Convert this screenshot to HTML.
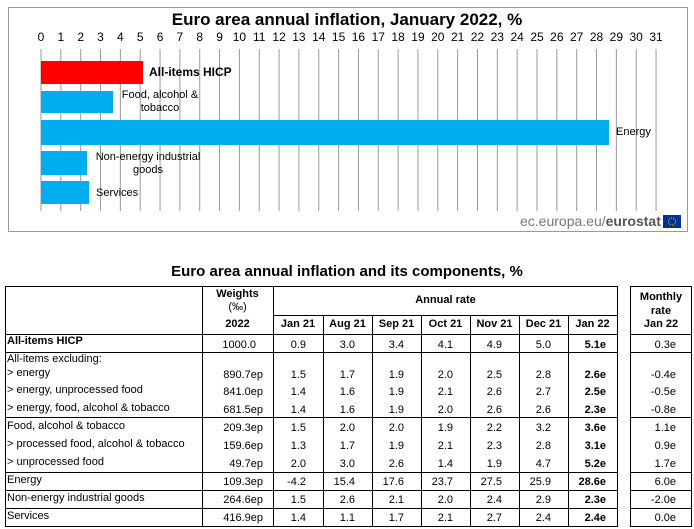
<!DOCTYPE html>
<html><head><meta charset="utf-8"><style>
body{margin:0;width:694px;height:529px;background:#fff;position:relative;overflow:hidden;font-family:"Liberation Sans",Arial,sans-serif;color:#000}
.a{position:absolute;white-space:nowrap}
.t{font-size:11px}
.c{text-align:center}
.r{text-align:right}
.b{font-weight:bold}
</style></head><body>
<div class="a" style="left:8px;top:7px;width:678px;height:223px;border:1px solid #999"></div>
<div class="a b c" style="left:8px;top:10px;width:678px;font-size:17px">Euro area annual inflation, January 2022, %</div>
<svg class="a" style="left:0;top:0" width="694" height="240">
<g id="g"></g>
<rect x="41" y="61" width="102" height="23" fill="#ff0000"/>
<rect x="41" y="91" width="72" height="22" fill="#00aeef"/>
<rect x="41" y="120" width="568" height="25" fill="#00aeef"/>
<rect x="41" y="151" width="46" height="24" fill="#00aeef"/>
<rect x="41" y="181" width="48" height="23" fill="#00aeef"/>
<rect x="663" y="215" width="18" height="13" fill="#003399"/>
<circle cx="672" cy="221.5" r="3.5" fill="none" stroke="#ffcc00" stroke-width="1" stroke-dasharray="1 1.2"/>
</svg>
<script>
var g=document.getElementById('g'),s='',l='';
for(var i=0;i<=31;i++){var x=41+i*19.84;s+='<line x1="'+x+'" y1="49" x2="'+x+'" y2="211" stroke="#999" stroke-width="1"/>';
l+='<div class="a c" style="left:'+(x-10)+'px;top:30px;width:20px;font-size:12px">'+i+'</div>';}
g.innerHTML=s;document.body.insertAdjacentHTML('beforeend',l);
</script>
<div class="a b" style="left:149px;top:65px;font-size:12px">All-items HICP</div>
<div class="a c" style="left:110px;top:89px;width:100px;font-size:11px;line-height:13px">Food, alcohol &amp;<br>tobacco</div>
<div class="a" style="left:616px;top:126px;font-size:11px">Energy</div>
<div class="a c" style="left:88px;top:151px;width:120px;font-size:11px;line-height:13px">Non-energy industrial<br>goods</div>
<div class="a" style="left:96px;top:187px;font-size:11px">Services</div>
<div class="a" style="left:520px;top:213px;font-size:14px;color:#777">ec.europa.eu/<b style="color:#555">eurostat</b></div>

<div class="a b c" style="left:0;top:263px;width:694px;font-size:15px">Euro area annual inflation and its components, %</div>
<svg class="a" style="left:0;top:0" width="694" height="529">
<g stroke="#000" stroke-width="1" fill="none">
<rect x="5.5" y="286.5" width="612" height="240"/>
<rect x="630.5" y="286.5" width="61" height="240"/>
<line x1="202.5" y1="286" x2="202.5" y2="527"/>
<line x1="273.5" y1="286" x2="273.5" y2="527"/>
<line x1="323.5" y1="315" x2="323.5" y2="527"/>
<line x1="372.5" y1="315" x2="372.5" y2="527"/>
<line x1="421.5" y1="315" x2="421.5" y2="527"/>
<line x1="470.5" y1="315" x2="470.5" y2="527"/>
<line x1="519.5" y1="315" x2="519.5" y2="527"/>
<line x1="568.5" y1="315" x2="568.5" y2="527"/>
<line x1="273" y1="315.5" x2="618" y2="315.5"/>
<line x1="5" y1="334.5" x2="618" y2="334.5"/><line x1="630" y1="334.5" x2="692" y2="334.5"/>
<line x1="5" y1="352.5" x2="618" y2="352.5"/><line x1="630" y1="352.5" x2="692" y2="352.5"/>
<line x1="5" y1="417.5" x2="618" y2="417.5"/><line x1="630" y1="417.5" x2="692" y2="417.5"/>
<line x1="5" y1="472.5" x2="618" y2="472.5"/><line x1="630" y1="472.5" x2="692" y2="472.5"/>
<line x1="5" y1="490.5" x2="618" y2="490.5"/><line x1="630" y1="490.5" x2="692" y2="490.5"/>
<line x1="5" y1="508.5" x2="618" y2="508.5"/><line x1="630" y1="508.5" x2="692" y2="508.5"/>
</g></svg>
<div class="a t b c" style="left:202px;top:288px;width:71px;line-height:13px">Weights<br><span style="font-weight:normal">(‰)</span></div>
<div class="a t b c" style="left:273px;top:294px;width:345px">Annual rate</div>
<div class="a t b c" style="left:630px;top:290px;width:62px;line-height:14px">Monthly<br>rate</div>
<div id="tb"></div>
<script>
var H=[["2022",202,71],["Jan 21",273,50],["Aug 21",323,49],["Sep 21",372,49],["Oct 21",421,49],["Nov 21",470,49],["Dec 21",519,49],["Jan 22",568,49],["Jan 22",630,62]];
var o='';H.forEach(function(h){o+='<div class="a t b c" style="left:'+h[1]+'px;top:318px;width:'+h[2]+'px">'+h[0]+'</div>';});
var R=[["All-items HICP",337,1,"1000.0","0.9","3.0","3.4","4.1","4.9","5.0","5.1e","0.3e"],
["All-items excluding:",353,0],
["&gt; energy",367,0,"890.7ep","1.5","1.7","1.9","2.0","2.5","2.8","2.6e","-0.4e"],
["&gt; energy, unprocessed food",384,0,"841.0ep","1.4","1.6","1.9","2.1","2.6","2.7","2.5e","-0.5e"],
["&gt; energy, food, alcohol &amp; tobacco",402,0,"681.5ep","1.4","1.6","1.9","2.0","2.6","2.6","2.3e","-0.8e"],
["Food, alcohol &amp; tobacco",420,0,"209.3ep","1.5","2.0","2.0","1.9","2.2","3.2","3.6e","1.1e"],
["&gt; processed food, alcohol &amp; tobacco",438,0,"159.6ep","1.3","1.7","1.9","2.1","2.3","2.8","3.1e","0.9e"],
["&gt; unprocessed food",456,0,"49.7ep","2.0","3.0","2.6","1.4","1.9","4.7","5.2e","1.7e"],
["Energy",474,0,"109.3ep","-4.2","15.4","17.6","23.7","27.5","25.9","28.6e","6.0e"],
["Non-energy industrial goods",492,0,"264.6ep","1.5","2.6","2.1","2.0","2.4","2.9","2.3e","-2.0e"],
["Services",510,0,"416.9ep","1.4","1.1","1.7","2.1","2.7","2.4","2.4e","0.0e"]];
var rt=[263,306,355,404,453,502,551,606,676];
R.forEach(function(r){var y=r[1];o+='<div class="a t'+(r[2]?' b':'')+'" style="left:7px;top:'+(y-(r[2]?2:0))+'px">'+r[0]+'</div>';
if(r.length>3){var vy=y+2;for(var k=0;k<9;k++){var rr=rt[k];if(k==0&&r[3]=="1000.0")rr=256;o+='<div class="a t r'+(k==7?' b':'')+'" style="left:'+(rr-80)+'px;top:'+vy+'px;width:80px">'+r[3+k]+'</div>';}}});
document.getElementById('tb').innerHTML=o;
</script>
</body></html>
